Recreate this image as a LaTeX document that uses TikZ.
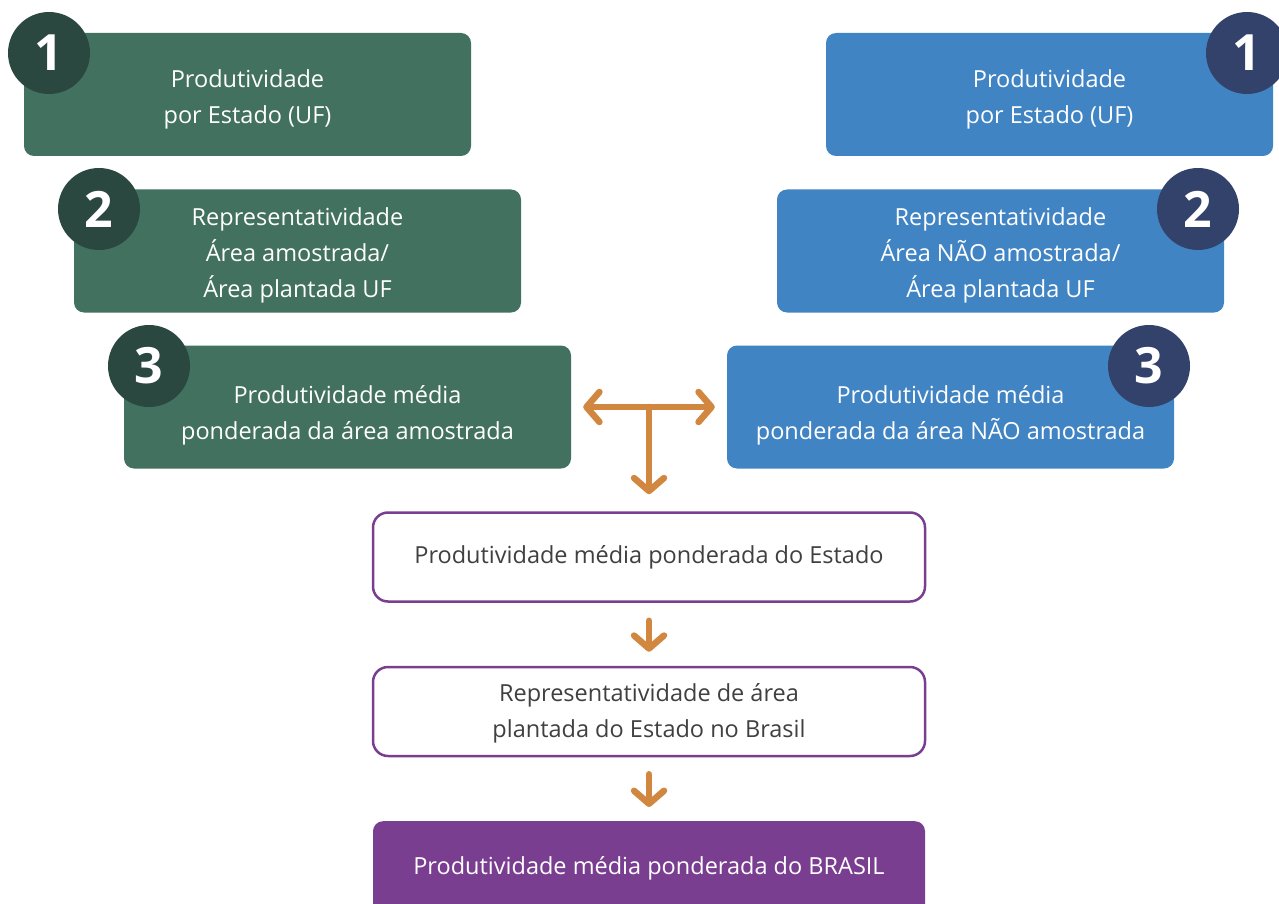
\documentclass[tikz,border=0pt]{standalone}
\usepackage{fontspec}
\setmainfont{Open Sans}
\usetikzlibrary{arrows.meta}
\definecolor{cgreen}{RGB}{66,113,96}
\definecolor{cgreendk}{RGB}{42,72,63}
\definecolor{cblue}{RGB}{65,132,195}
\definecolor{cnavy}{RGB}{51,66,106}
\definecolor{cpurple}{RGB}{122,62,144}
\definecolor{corange}{RGB}{210,135,65}
\definecolor{ctext}{RGB}{64,64,64}
\newcommand{\boxtext}[2]{\raisebox{#1}[\height][\depth]{\parbox{440pt}{\centering #2}}}
\begin{document}
\begin{tikzpicture}[x=1pt,y=-1pt,
  box/.style={rounded corners=10pt, minimum width=447pt, minimum height=123pt, align=center, inner sep=0pt, text=white, font=\fontsize{23.5}{36}\selectfont},
  gbox/.style={box, fill=cgreen},
  bbox/.style={box, fill=cblue},
  wbox/.style={rounded corners=15pt, draw=cpurple, line width=2.5pt, fill=white, minimum width=552pt, minimum height=89pt, align=center, inner sep=0pt, text=ctext, font=\fontsize{23.5}{36}\selectfont},
  num/.style={circle, minimum size=82pt, inner sep=0pt, text=white, font=\fontsize{50}{50}\selectfont\bfseries},
  gnum/.style={num, fill=cgreendk},
  bnum/.style={num, fill=cnavy},
  arr/.style={draw=corange, line width=6.5pt, line cap=round, line join=round},
  tip/.tip={Straight Barb[round, length=13pt, width=30pt]}
]
\useasboundingbox (0,0) rectangle (1279,904);

% left (green) column
\node[gbox] (L1) at (247.5,94.5) {\boxtext{-5pt}{Produtividade\\por Estado (UF)}};
\node[gbox] (L2) at (297.5,251) {\boxtext{-4.5pt}{Representatividade\\Área amostrada/\\Área plantada UF}};
\node[gbox] (L3) at (347.5,407) {\boxtext{-8.5pt}{Produtividade média\\ponderada da área amostrada}};
\node[gnum] (n1l) at (49,53) {1};
\node[gnum] (n2l) at (99,209) {2};
\node[gnum] (n3l) at (149,366) {3};

% right (blue) column
\node[bbox] (R1) at (1049.5,94.5) {\boxtext{-5pt}{Produtividade\\por Estado (UF)}};
\node[bbox] (R2) at (1000.5,251) {\boxtext{-4.5pt}{Representatividade\\Área NÃO amostrada/\\Área plantada UF}};
\node[bbox] (R3) at (950.5,407) {\boxtext{-8.5pt}{Produtividade média\\ponderada da área NÃO amostrada}};
\node[bnum] (n1r) at (1247,53) {1};
\node[bnum] (n2r) at (1198,209) {2};
\node[bnum] (n3r) at (1149,366) {3};

% white boxes
\node[wbox] (W1) at (649,557) {Produtividade média ponderada do Estado};
\node[wbox] (W2) at (649,711.5) {\boxtext{-2pt}{Representatividade de área\\plantada do Estado no Brasil}};

% bottom purple box (runs past the page bottom)
\node[rounded corners=10pt, fill=cpurple, minimum width=552pt, minimum height=130pt, anchor=north, inner sep=0pt, text=white, font=\fontsize{23.5}{36}\selectfont] (B) at (649,821) {\raisebox{18pt}[\height][\depth]{Produtividade média ponderada do BRASIL}};

% connectors
\coordinate (tj) at (649,407);
\draw[arr, tip-tip] ([xshift=12pt]L3.east) -- ([xshift=-12pt]R3.west);
\draw[arr, -tip] (tj) -- ([yshift=17pt]W1.north);
\draw[arr, -tip] ([yshift=-18pt]W1.south) -- ([yshift=14pt]W2.north);
\draw[arr, -tip] ([yshift=-17pt]W2.south) -- ([yshift=14pt]B.north);
\end{tikzpicture}
\end{document}
